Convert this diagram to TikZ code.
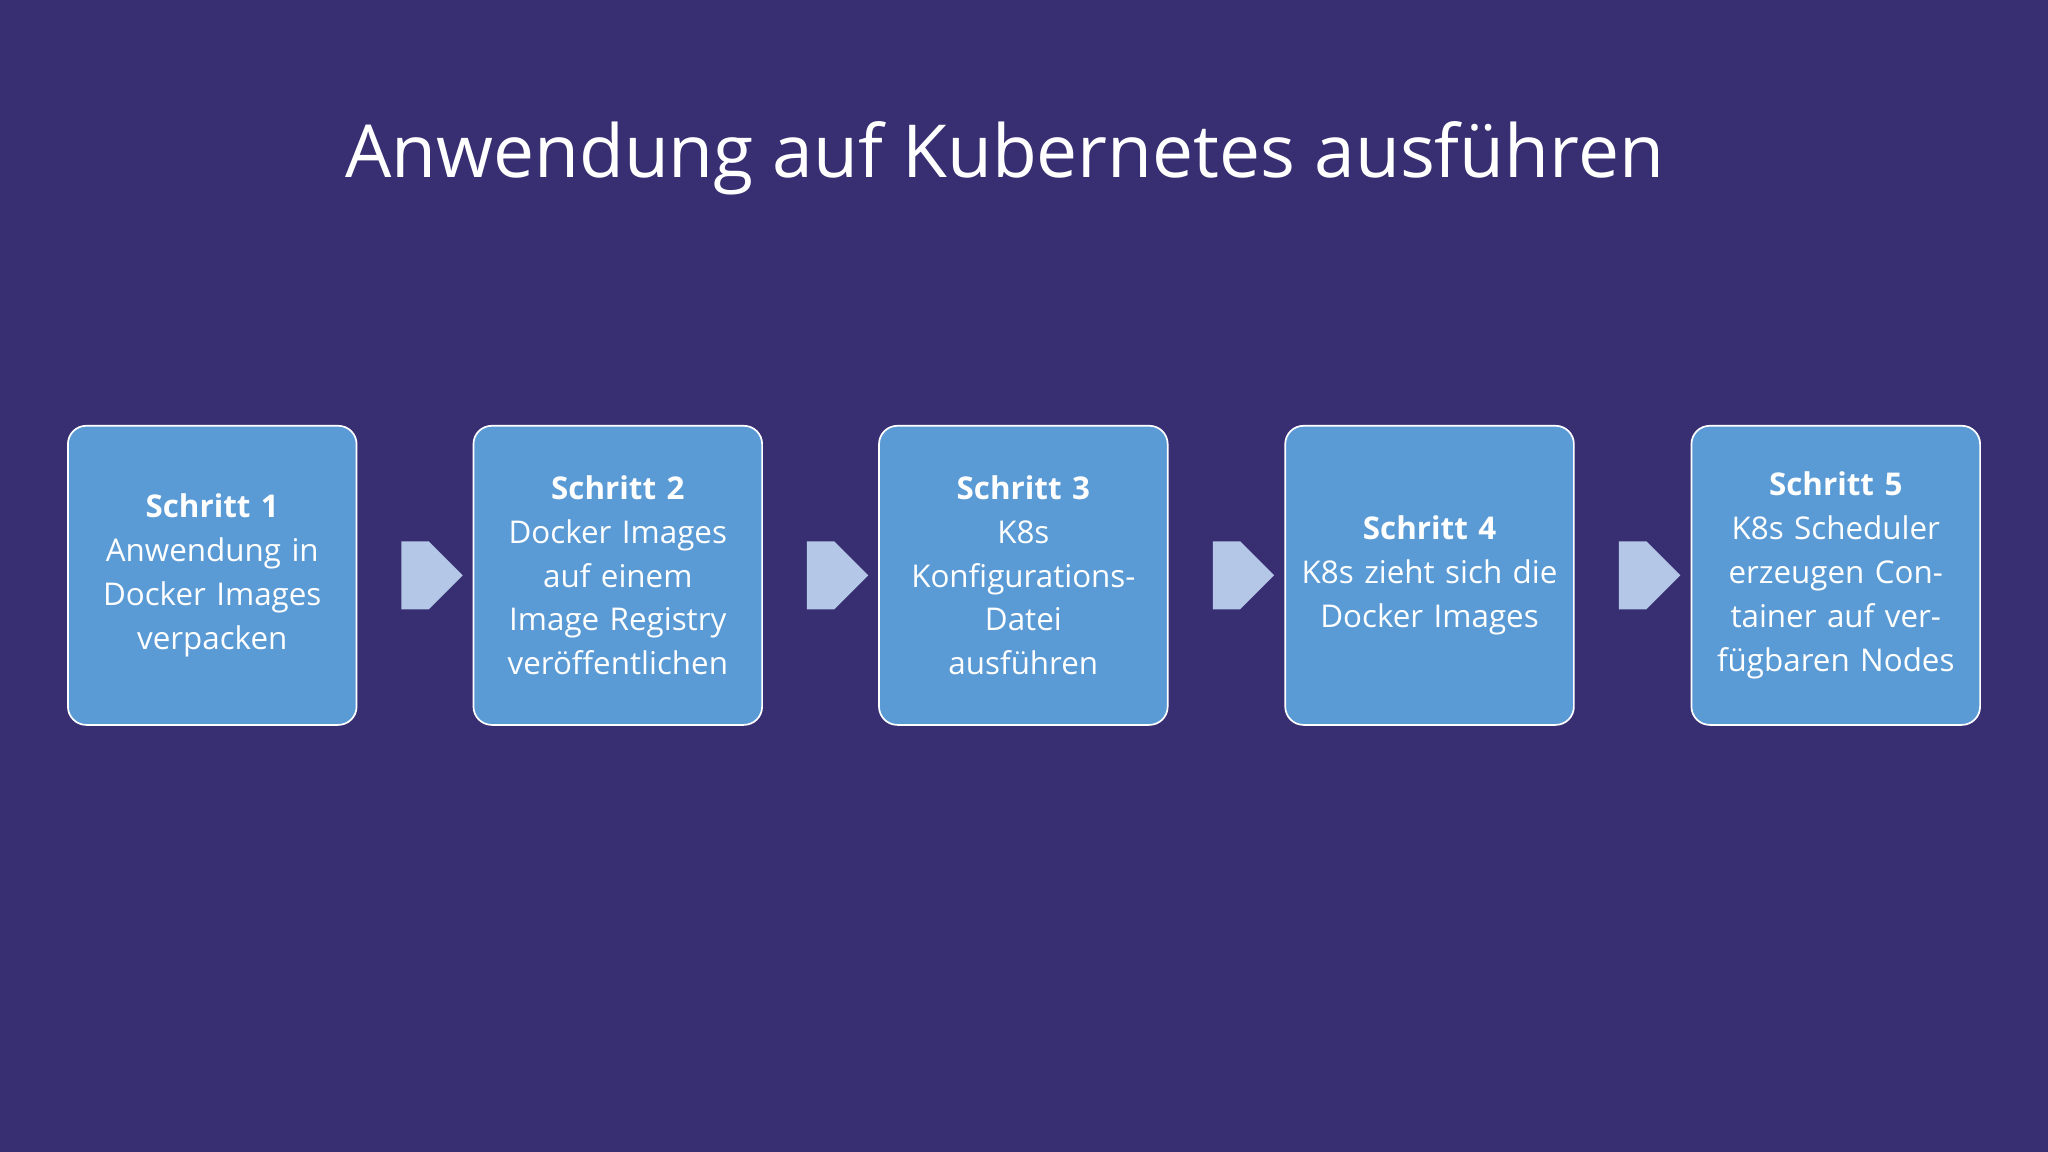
\documentclass[tikz,border=0pt]{standalone}
\usepackage{fontspec}
\setmainfont{Open Sans}
\usetikzlibrary{shapes.arrows,calc}
\definecolor{bg}{HTML}{382F72}
\definecolor{boxc}{HTML}{5B9BD5}
\definecolor{arr}{HTML}{B4C7E7}
\tikzset{
 stepbox/.style={draw=white, line width=1.3pt, rounded corners=14pt, fill=boxc, minimum width=221pt, minimum height=229pt, text width=200pt, align=center, text=white, font=\fontsize{24}{33.5}\selectfont},
 flowarrow/.style={single arrow, fill=arr, draw=none, minimum height=47pt, minimum width=52pt, single arrow head extend=0pt, inner sep=0pt, single arrow tip angle=90, single arrow head indent=0pt}
}
\begin{document}
\begin{tikzpicture}[x=1pt,y=-1pt]
\fill[bg] (0,0) rectangle (1568,882);
\useasboundingbox (0,0) rectangle (1568,882);
\node[text=white, font=\fontsize{56}{60}\selectfont] (title) at (769,121) {Anwendung auf Kubernetes ausführen};
\node[stepbox] (s1) at (162.5,440.5) {\textbf{Schritt 1}\\Anwendung in Docker Images verpacken};
\node[stepbox] (s2) at (473,440.5) {\textbf{Schritt 2}\\Docker Images auf einem Image Registry veröffentlichen};
\node[stepbox] (s3) at (783.5,440.5) {\textbf{Schritt 3}\\K8s\\Konfigurations-\\Datei\\ausführen};
\node[stepbox] (s4) at (1094.5,440.5) {\textbf{Schritt 4}\\K8s zieht sich die Docker Images};
\node[stepbox] (s5) at (1405.5,440.5) {\textbf{Schritt 5}\\K8s Scheduler erzeugen Container auf verfügbaren Nodes};
\foreach \a/\b in {s1/s2,s2/s3,s3/s4,s4/s5}
  \node[flowarrow] (a\a) at ($(\a.east)!0.5!(\b.west)$) {};
\end{tikzpicture}
\end{document}
